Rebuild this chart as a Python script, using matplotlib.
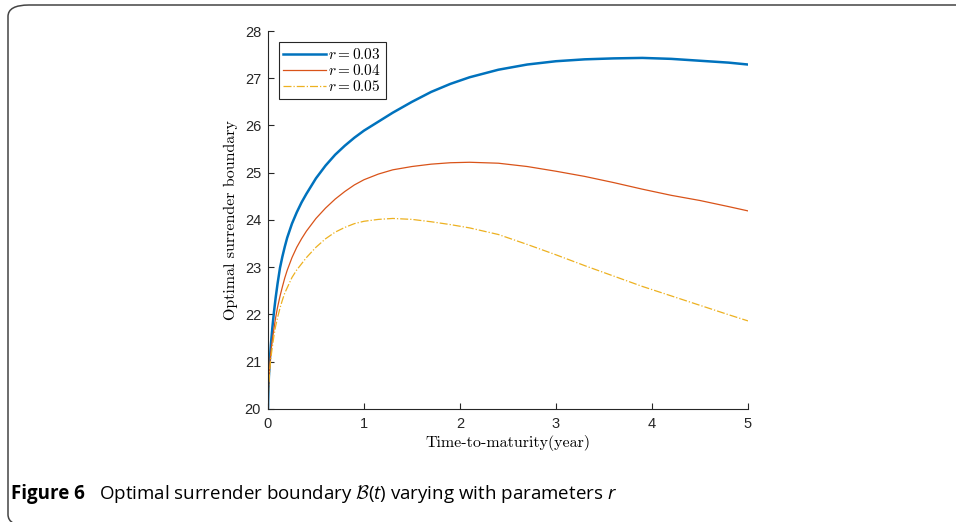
import matplotlib
matplotlib.use("Agg")
import matplotlib.pyplot as plt
from matplotlib.patches import FancyBboxPatch

# time to maturity (years) and boundary values for each interest rate
t = [0, 0.005, 0.01, 0.02, 0.03, 0.045, 0.0625, 0.08, 0.1, 0.125, 0.15, 0.175, 0.2,
     0.25, 0.3, 0.35, 0.4, 0.5, 0.6, 0.7, 0.8, 0.9, 1.0, 1.15, 1.3, 1.5, 1.7, 1.9,
     2.1, 2.4, 2.7, 3.0, 3.3, 3.6, 3.9, 4.2, 4.5, 4.8, 5.0]
b_r003 = [20.0, 20.45, 20.7, 21.05, 21.35, 21.7, 22.05, 22.35, 22.65, 22.98, 23.22, 23.43, 23.62,
          23.92, 24.16, 24.37, 24.55, 24.88, 25.15, 25.38, 25.57, 25.74, 25.89, 26.08, 26.27, 26.50, 26.71, 26.88,
          27.02, 27.18, 27.29, 27.36, 27.40, 27.42, 27.43, 27.41, 27.37, 27.33, 27.29]
b_r004 = [20.0, 20.4, 20.62, 20.95, 21.2, 21.45, 21.7, 21.93, 22.15, 22.38, 22.58, 22.77, 22.93,
          23.2, 23.42, 23.6, 23.76, 24.03, 24.25, 24.44, 24.6, 24.74, 24.85, 24.97, 25.06, 25.13, 25.18, 25.21,
          25.22, 25.2, 25.13, 25.03, 24.92, 24.79, 24.65, 24.52, 24.41, 24.28, 24.19]
b_r005 = [20.0, 20.35, 20.55, 20.85, 21.07, 21.3, 21.55, 21.75, 21.93, 22.13, 22.3, 22.45, 22.56,
          22.78, 22.94, 23.07, 23.2, 23.42, 23.6, 23.74, 23.84, 23.92, 23.97, 24.01, 24.03, 24.01, 23.96, 23.9,
          23.83, 23.69, 23.48, 23.26, 23.03, 22.81, 22.59, 22.39, 22.19, 21.99, 21.86]
labels = ["$r = 0.03$", "$r = 0.04$", "$r = 0.05$"]
xticks = [0, 1, 2, 3, 4, 5]
yticks = [20, 21, 22, 23, 24, 25, 26, 27, 28]

plt.rcParams["mathtext.fontset"] = "cm"
plt.rcParams["mathtext.rm"] = "Open Sans"
plt.rcParams["mathtext.it"] = "Open Sans:italic"
plt.rcParams["mathtext.cal"] = "cmsy10"

fig = plt.figure(figsize=(9.56, 5.22), dpi=100)
ax = fig.add_axes([0.2803, 0.217, 0.5021, 0.7236])

ax.plot(t, b_r003, color="#0072BD", lw=1.8, label=labels[0])
ax.plot(t, b_r004, color="#D95319", lw=0.9, label=labels[1])
ax.plot(t, b_r005, color="#EDB120", lw=0.9, ls="-.", label=labels[2])

ax.set_xlim(0, 5)
ax.set_ylim(20, 28)
ax.set_xticks(xticks)
ax.set_yticks(yticks)
for s in ["top", "right"]:
    ax.spines[s].set_visible(False)
for s in ["left", "bottom"]:
    ax.spines[s].set_color("#262626")
    ax.spines[s].set_linewidth(0.8)
ax.tick_params(direction="in", length=4, width=0.8, colors="#262626",
               labelsize=10.5)
ax.tick_params(axis="x", pad=6)
ax.tick_params(axis="y", pad=5)
for lab in ax.get_xticklabels() + ax.get_yticklabels():
    lab.set_fontfamily("Liberation Sans")

ax.set_xlabel("Time-to-maturity(year)", fontfamily="cmr10", fontsize=11.5, labelpad=3)
ax.set_ylabel("Optimal surrender boundary", fontfamily="cmr10", fontsize=11.5, labelpad=5)

leg = ax.legend(loc="upper left", bbox_to_anchor=(0.022, 0.97), fontsize=11,
                fancybox=False, edgecolor="#262626", framealpha=1,
                handlelength=2.8, handletextpad=0.15, borderpad=0.3,
                labelspacing=0.08, borderaxespad=0)
leg.get_frame().set_linewidth(0.8)

# rounded frame around the figure and caption
W, H = 956, 522
frame = FancyBboxPatch((8 / W, -4 / H), 1.2, (H - 1) / H,
                       boxstyle="round,pad=0,rounding_size=0.022",
                       transform=fig.transFigure, fill=False,
                       edgecolor="#444444", lw=1.1, clip_on=False)
fig.patches.append(frame)

fig.text(11 / W, 1 - 494 / H, "Figure 6", fontfamily="Open Sans", fontweight="bold",
         fontsize=13.5, va="center", ha="left")
fig.text(99 / W, 1 - 494 / H,
         r"Optimal surrender boundary $\mathcal{B}(t)$ varying with parameters $r$",
         fontfamily="Open Sans", fontsize=13.5, va="center", ha="left",
         math_fontfamily="custom")

fig.savefig("out.png", dpi=100)
